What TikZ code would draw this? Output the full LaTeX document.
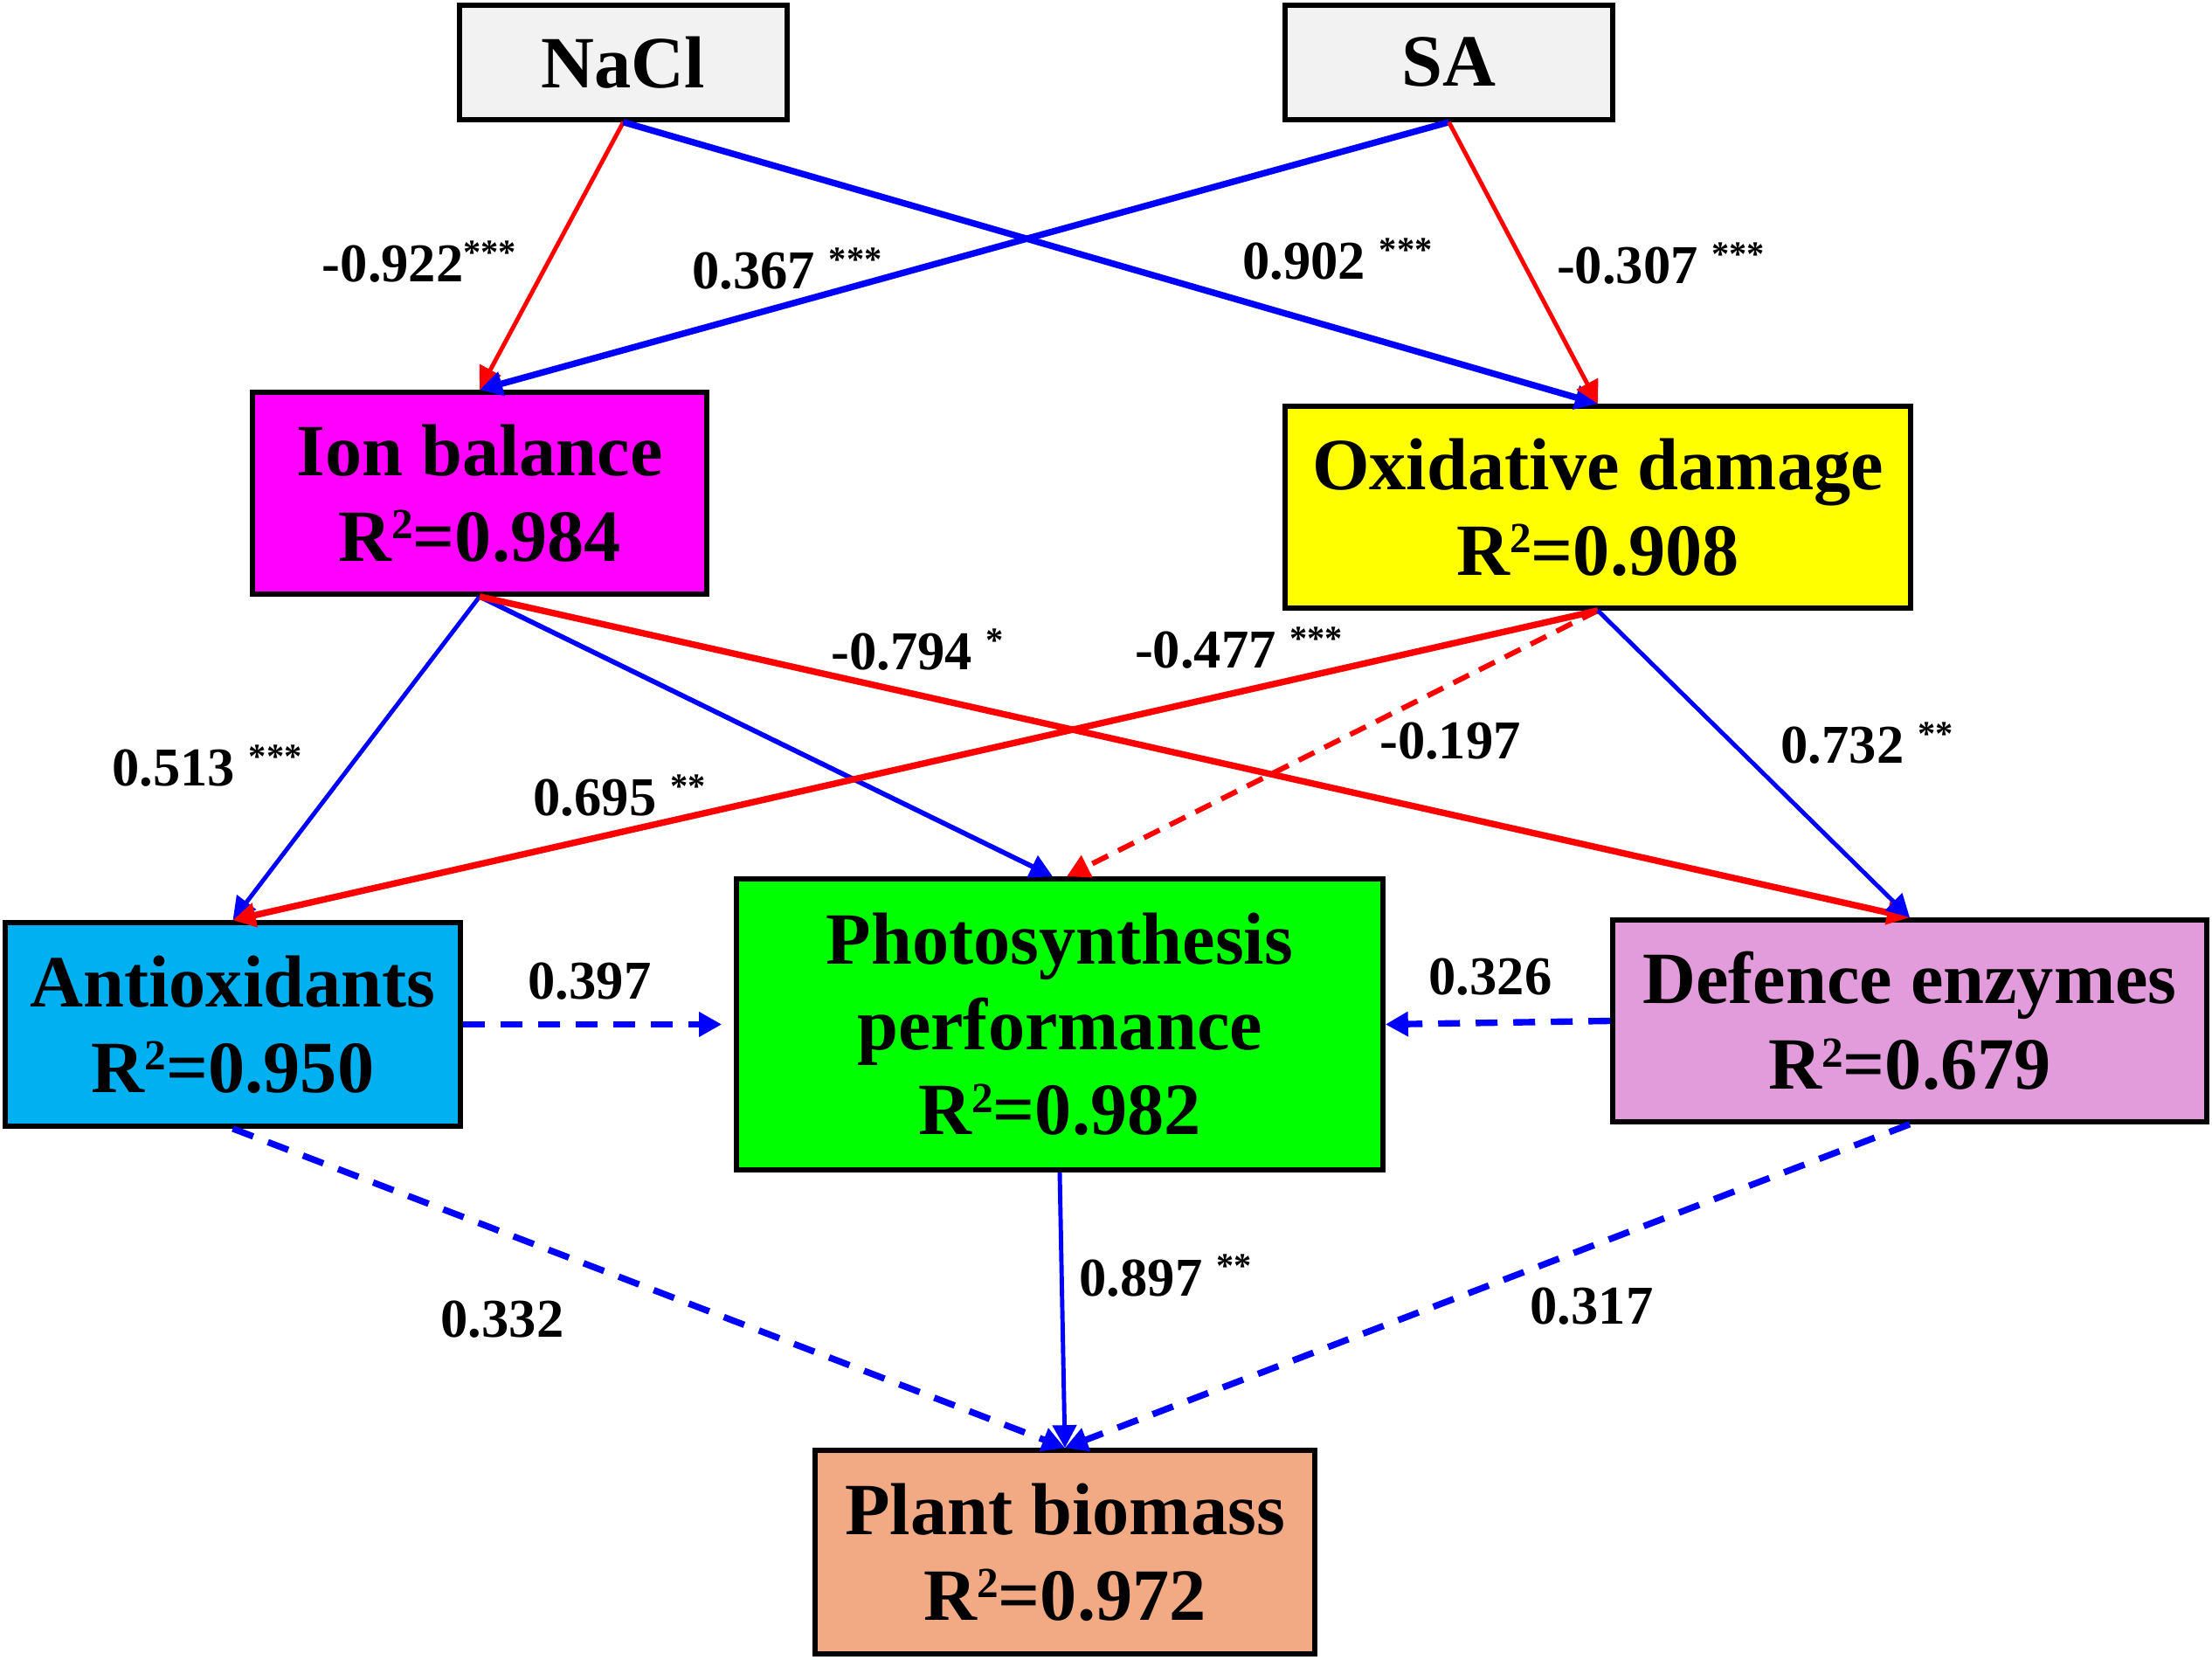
\documentclass[tikz,border=0pt]{standalone}
\usepackage{fontspec}
\setmainfont{Liberation Serif}
\usetikzlibrary{arrows.meta}
\definecolor{boxgray}{HTML}{F2F2F2}
\definecolor{ionc}{HTML}{FF00FF}
\definecolor{oxc}{HTML}{FFFF00}
\definecolor{antic}{HTML}{00B0F0}
\definecolor{photoc}{HTML}{00FF00}
\definecolor{defc}{HTML}{E29CDB}
\definecolor{bioc}{HTML}{F2AA84}
\definecolor{pblue}{HTML}{0000FF}
\definecolor{pred}{HTML}{FF0000}
\newcommand\sqtwo{\raisebox{0.3em}{\fontsize{14}{14}\selectfont 2}}
\newcommand\sigstars[1]{\raisebox{0.32em}{\fontsize{11.5}{11.5}\selectfont #1}}
\begin{document}
\begin{tikzpicture}[
  box/.style={draw=black, line width=1.6pt, inner sep=0pt, align=center,
    font=\fontsize{24}{27.8}\selectfont\bfseries},
  lab/.style={anchor=base, inner sep=0pt, font=\fontsize{17.8}{20}\selectfont\bfseries},
  arr/.style={-{Triangle[length=0.26cm,width=0.27cm]}},
  thickln/.style={line width=2.1pt},
  thinln/.style={line width=1.4pt},
  medln/.style={line width=1.6pt},
  dashln/.style={line width=2.1pt, dash pattern=on 0.25cm off 0.18cm},
  rdashln/.style={line width=1.7pt, dash pattern=on 0.2cm off 0.13cm},
]
\useasboundingbox (0,0) rectangle (25.32,18.99);

% boxes
\node[box, fill=boxgray, minimum width=3.75cm, minimum height=1.31cm] (nacl) at (7.135,18.275) {NaCl};
\node[box, fill=boxgray, minimum width=3.75cm, minimum height=1.31cm] (sa) at (16.585,18.275) {SA};
\node[box, fill=ionc, minimum width=5.20cm, minimum height=2.31cm] (ion) at (5.49,13.345) {Ion balance\\R\sqtwo=0.984};
\node[box, fill=oxc, minimum width=7.16cm, minimum height=2.31cm] (ox) at (18.29,13.185) {Oxidative damage\\R\sqtwo=0.908};
\node[box, fill=antic, minimum width=5.21cm, minimum height=2.33cm] (anti) at (2.665,7.265) {Antioxidants\\R\sqtwo=0.950};
\node[box, fill=photoc, minimum width=7.40cm, minimum height=3.33cm] (photo) at (12.13,7.265) {Photosynthesis\\performance\\R\sqtwo=0.982};
\node[box, fill=defc, minimum width=6.80cm, minimum height=2.31cm] (def) at (21.86,7.305) {Defence enzymes\\R\sqtwo=0.679};
\node[box, fill=bioc, minimum width=5.72cm, minimum height=2.33cm] (bio) at (12.19,1.225) {Plant biomass\\R\sqtwo=0.972};

% connectors
\draw[arr, pred, thinln] (nacl.south) -- (ion.north);
\draw[arr, pblue, thickln] (nacl.south) -- (ox.north);
\draw[arr, pblue, thickln] (sa.south) -- (ion.north);
\draw[arr, pred, thinln] (sa.south) -- (ox.north);
\draw[arr, pblue, thinln] (ion.south) -- (anti.north);
\draw[arr, pblue, medln] (ion.south) -- ([xshift=-0.08cm]photo.north);
\draw[arr, pred, thickln] (ion.south) -- (def.north);
\draw[arr, pred, thickln] (ox.south) -- (anti.north);
\draw[arr, pred, rdashln] (ox.south) -- ([xshift=0.08cm]photo.north);
\draw[arr, pblue, thinln] (ox.south) -- (def.north);
\draw[arr, pblue, dashln, shorten >=0.14cm] (anti.east) -- (photo.west);
\draw[arr, pblue, dashln] (def.west) -- (photo.east);
\draw[arr, pblue, dashln] (anti.south) -- (bio.north);
\draw[arr, pblue, thinln] (photo.south) -- (bio.north);
\draw[arr, pblue, dashln] (def.south) -- (bio.north);

% labels
\node[lab] (l1) at (4.80,15.76) {-0.922\sigstars{***}};
\node[lab] (l2) at (9.01,15.68) {0.367 \sigstars{***}};
\node[lab] (l3) at (15.31,15.79) {0.902 \sigstars{***}};
\node[lab] (l4) at (19.01,15.74) {-0.307 \sigstars{***}};
\node[lab] (l5) at (10.50,11.32) {-0.794 \sigstars{*}};
\node[lab] (l6) at (14.18,11.34) {-0.477 \sigstars{***}};
\node[lab] (l7) at (2.37,9.99) {0.513 \sigstars{***}};
\node[lab] (l8) at (7.09,9.65) {0.695 \sigstars{**}};
\node[lab] (l9) at (16.60,10.30) {-0.197};
\node[lab] (l10) at (21.37,10.25) {0.732 \sigstars{**}};
\node[lab] (l11) at (6.75,7.55) {0.397};
\node[lab] (l12) at (17.06,7.60) {0.326};
\node[lab] (l13) at (13.34,4.16) {0.897 \sigstars{**}};
\node[lab] (l14) at (5.75,3.69) {0.332};
\node[lab] (l15) at (18.22,3.84) {0.317};
\end{tikzpicture}
\end{document}
